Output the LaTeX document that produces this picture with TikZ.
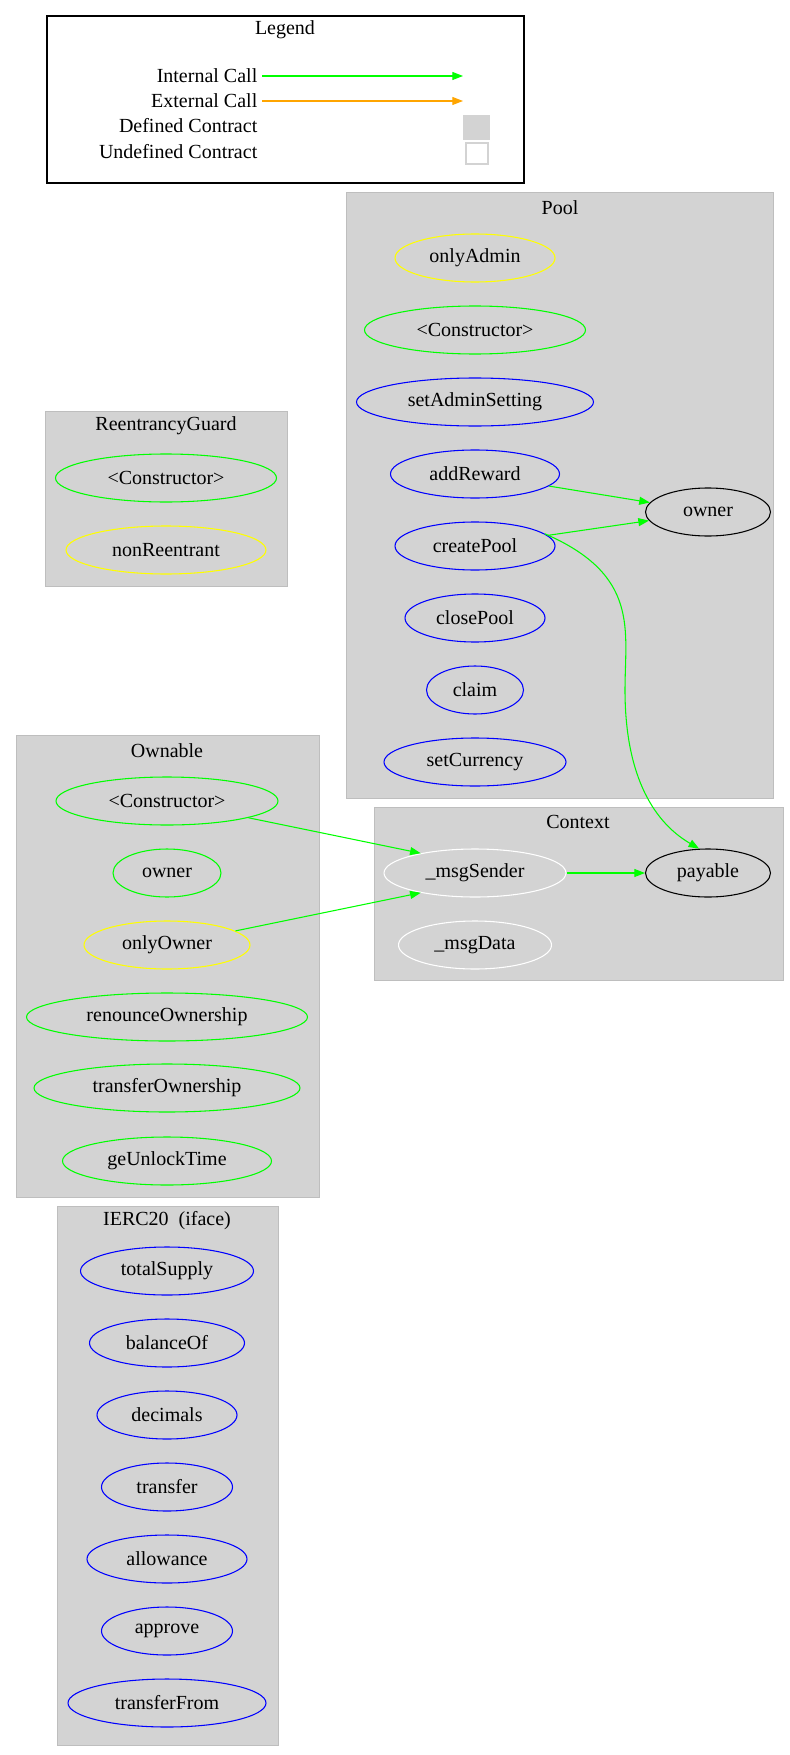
\documentclass[tikz,border=0pt]{standalone}
\usepackage{fontspec}
\setmainfont{Liberation Serif}
\usetikzlibrary{arrows.meta}
\definecolor{cl}{RGB}{211,211,211}
\definecolor{gr}{RGB}{0,255,0}
\definecolor{ye}{RGB}{255,255,0}
\definecolor{bl}{RGB}{0,0,255}
\definecolor{orng}{RGB}{255,165,0}
\begin{document}
\begin{tikzpicture}[x=0.75pt,y=-0.75pt,
  every node/.style={font=\fontsize{15}{18}\selectfont},
  ell/.style={ellipse,draw,line width=0.8pt,inner sep=0pt,minimum height=36pt,minimum width=0.75*#1pt},
  clu/.style={fill=cl,draw=cl!90!black,line width=0.5pt},
  call/.style={draw=gr,line width=0.8pt,-{Triangle[length=8pt,width=6pt]}},
  ext/.style={draw=orng,line width=0.8pt,-{Triangle[length=8pt,width=6pt]}}]
\usetikzlibrary{shapes.geometric}
\useasboundingbox (0,0) rectangle (789,1755);
% legend
\draw[line width=0.8pt] (47,16) rectangle (524,183);
\node (lt) at (285,30) {Legend};
\node[anchor=east] (l1) at (262,76) {Internal Call};
\node[anchor=east] (l2) at (262,101) {External Call};
\node[anchor=east] (l3) at (262,126) {Defined Contract};
\node[anchor=east] (l4) at (262,152) {Undefined Contract};
\coordinate (a1) at (463,76);
\coordinate (a2) at (463,101);
\draw[call] (l1.east) -- (a1);
\draw[ext] (l2.east) -- (a2);
\fill[cl] (463,115) rectangle (490,140);
\draw[cl,line width=0.8pt] (466,143) rectangle (488,164);
% clusters
\draw[clu] (346,192) rectangle (773,798);
\draw[clu] (45,411) rectangle (287,586);
\draw[clu] (16,735) rectangle (319,1197);
\draw[clu] (374,807) rectangle (783,980);
\draw[clu] (57,1206) rectangle (278,1745);
\node at (560,208) {Pool};
\node at (166,426) {ReentrancyGuard};
\node at (167,751) {Ownable};
\node at (578,822) {Context};
\node at (167,1221) {IERC20\ \ (iface)};
% Pool
\node[ell=160,draw=ye] (pA) at (475,258) {onlyAdmin};
\node[ell=221,draw=gr] (pC) at (475,330) {<Constructor>};
\node[ell=237,draw=bl] (pS) at (475,402) {setAdminSetting};
\node[ell=169,draw=bl] (pR) at (475,474) {addReward};
\node[ell=160,draw=bl] (pP) at (475,546) {createPool};
\node[ell=140,draw=bl] (pX) at (475,618) {closePool};
\node[ell=97,draw=bl] (pM) at (475,690) {claim};
\node[ell=182,draw=bl] (pY) at (475,762) {setCurrency};
\node[ell=125,draw=black] (own) at (708,512) {owner};
% ReentrancyGuard
\node[ell=221,draw=gr] (rC) at (166,478) {<Constructor>};
\node[ell=200,draw=ye] (rN) at (166,550) {nonReentrant};
% Ownable
\node[ell=222,draw=gr] (oC) at (167,801) {<Constructor>};
\node[ell=108,draw=gr] (oO) at (167,873) {owner};
\node[ell=166,draw=ye] (oY) at (167,945) {onlyOwner};
\node[ell=281,draw=gr] (oR) at (167,1017) {renounceOwnership};
\node[ell=266,draw=gr] (oT) at (167,1088) {transferOwnership};
\node[ell=209,draw=gr] (oG) at (167,1161) {geUnlockTime};
% Context
\node[ell=182,draw=white] (cS) at (475,873) {\_msgSender};
\node[ell=153,draw=white] (cD) at (475,945) {\_msgData};
\node[ell=125,draw=black] (pay) at (708,873) {payable};
% IERC20
\node[ell=173,draw=bl] (i1) at (167,1271) {totalSupply};
\node[ell=155,draw=bl] (i2) at (167,1343) {balanceOf};
\node[ell=140,draw=bl] (i3) at (167,1415) {decimals};
\node[ell=131,draw=bl] (i4) at (167,1487) {transfer};
\node[ell=160,draw=bl] (i5) at (167,1559) {allowance};
\node[ell=131,draw=bl] (i6) at (167,1631) {approve};
\node[ell=198,draw=bl] (i7) at (167,1703) {transferFrom};
% edges
\draw[call] (pR) -- (own);
\draw[call] (pP) -- (own);
\draw[call] (pP.10) .. controls (640,575) and (625,630) .. (625,690) .. controls (625,770) and (650,820) .. (pay.110);
\draw[call] (cS) -- (pay);
\draw[call] (oC) -- (cS.160);
\draw[call] (oY) -- (cS.200);
\end{tikzpicture}
\end{document}
